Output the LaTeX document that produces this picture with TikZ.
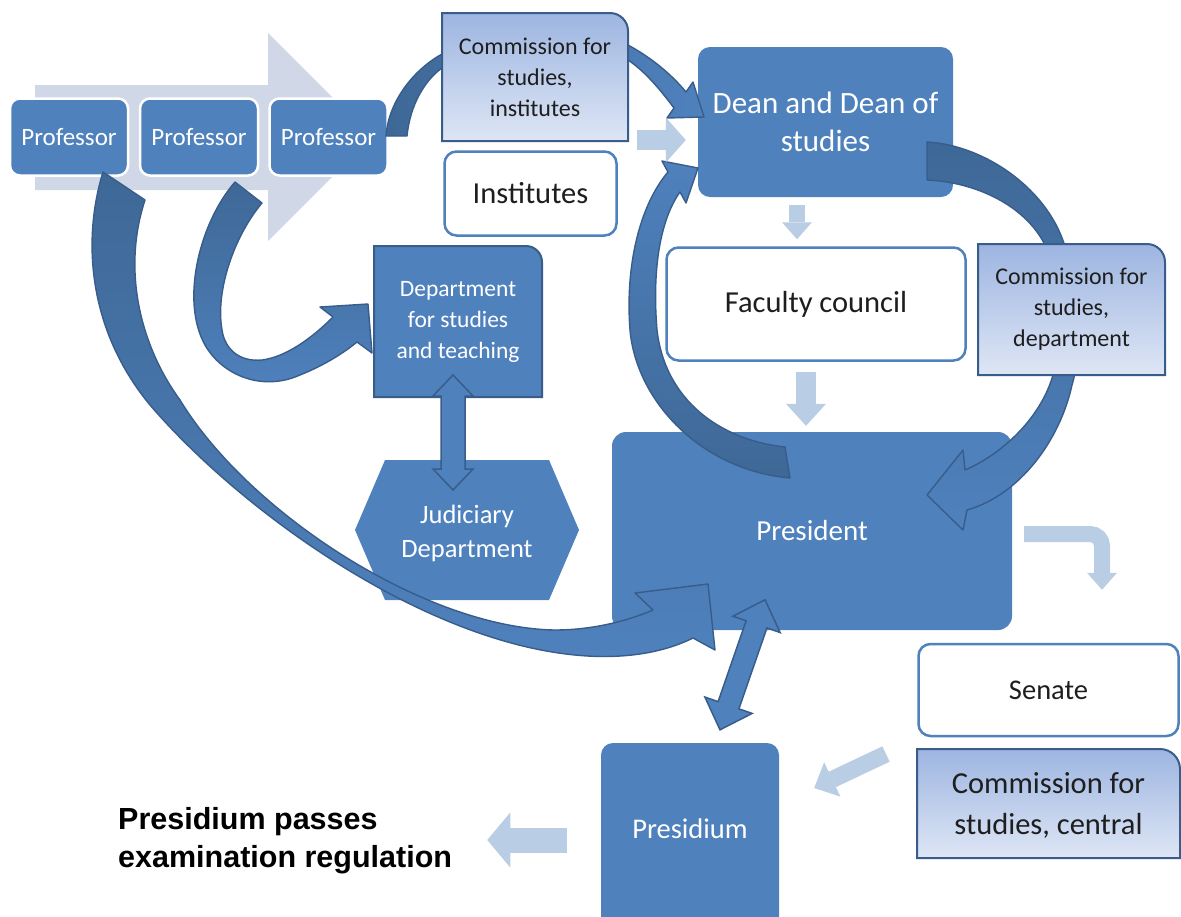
\documentclass[tikz,border=0pt]{standalone}
\usepackage{fontspec}
\setmainfont{Carlito}
\newfontfamily\captionfont{Liberation Sans}
\usetikzlibrary{arrows.meta,calc}

\definecolor{boxblue}{HTML}{4F81BD}
\definecolor{arcdark}{HTML}{3E6896}
\definecolor{edgeblue}{HTML}{385D8A}
\definecolor{paleblue}{HTML}{B9CDE5}
\definecolor{chevronblue}{HTML}{D0D8E8}
\definecolor{gradtop}{HTML}{9DB5E1}
\definecolor{gradbottom}{HTML}{DEE6F5}
\definecolor{ink}{HTML}{1E1E1E}

\newcommand\fsz[2]{\fontsize{#1}{#2}\selectfont}

% box with only the top right corner rounded: node name, radius, path options
\newcommand\trbox[3]{%
  \path[#3] (#1.south west) -- (#1.north west) -- ([xshift=-#2]#1.north east)
    .. controls ([xshift=-0.45*#2]#1.north east) and ([yshift=-0.45*#2]#1.north east)
    .. ([yshift=-#2]#1.north east) -- (#1.south east) -- cycle;}

\tikzset{
  prof/.style={fill=boxblue, draw=white, line width=2.5pt, rounded corners=10pt,
    minimum width=118pt, minimum height=77pt, inner sep=0pt, text=white, font=\fsz{25}{30}},
  solidbox/.style={fill=boxblue, rounded corners=12pt, inner sep=0pt, text=white, align=center},
  whitebox/.style={fill=white, draw=boxblue, line width=2.5pt, rounded corners=12pt,
    inner sep=0pt, text=ink, align=center},
  holder/.style={inner sep=0pt, outer sep=0pt},
  darktext/.style={text=ink, align=center, inner sep=0pt},
  lighttext/.style={text=white, align=center, inner sep=0pt},
  gradfill/.style={top color=gradtop, bottom color=gradbottom, draw=edgeblue, line width=2pt},
  curved/.style={draw=edgeblue, line width=1.4pt, line join=round},
  pale/.style={draw=paleblue, line width=#1},
  dbl/.style={fill=boxblue, draw=edgeblue, line width=1.5pt, line join=miter},
  pics/dblblock/.style n args={4}{code={%
    \path[pic actions] (0,0) -- (#4,#3) -- (#4,#2) -- (#1-#4,#2) -- (#1-#4,#3) -- (#1,0)
      -- (#1-#4,-#3) -- (#1-#4,-#2) -- (#4,-#2) -- (#4,-#3) -- cycle;}}
}

\begin{document}
\begin{tikzpicture}[x=1pt,y=-1pt]
\useasboundingbox (0,0) rectangle (1181,916);
\fill[white] (0,0) rectangle (1181,916);

% chevron behind the professors
\fill[chevronblue] (35,85) -- (268,85) -- (268,33) -- (372,137) -- (268,241) -- (268,190) -- (35,190) -- cycle;

\node[prof] (p1) at (69,137) {Professor};
\node[prof] (p2) at (199,137) {Professor};
\node[prof] (p3) at (328.5,137) {Professor};

\node[whitebox, minimum width=172pt, minimum height=84pt, font=\fsz{30.5}{36}] (inst) at (530.5,193.5) {Institutes};
\node[solidbox, minimum width=255pt, minimum height=150pt, font=\fsz{31}{38}] (dean) at (825.5,122) {Dean and Dean of\\studies};
\node[whitebox, minimum width=299pt, minimum height=113pt, font=\fsz{30.5}{36}] (fac) at (816,304) {Faculty council};
\node[solidbox, rounded corners=14pt, minimum width=400pt, minimum height=198pt, font=\fsz{29}{34}] (pres) at (812,531) {President};
\node[whitebox, minimum width=260pt, minimum height=92pt, font=\fsz{28.5}{34}] (sen) at (1048.5,690) {Senate};
\node[solidbox, minimum width=178pt, minimum height=192pt] (prm) at (690,839) {};
\node[lighttext, font=\fsz{28.5}{34}] (prmt) at ($(prm.north)+(0,86)$) {Presidium};

% department for studies
\node[holder, minimum width=168pt, minimum height=151pt] (dept) at (458,321.5) {};
\trbox{dept}{16pt}{fill=boxblue, draw=edgeblue, line width=2pt}
\node[lighttext, font=\fsz{23.5}{31}] (deptt) at (dept) {Department\\for studies\\and teaching};

% judiciary hexagon
\node[holder, minimum width=224pt, minimum height=140pt] (jud) at (467,530) {};
\fill[boxblue] (jud.west) -- ([xshift=30pt]jud.north west) -- ([xshift=-30pt]jud.north east)
  -- (jud.east) -- ([xshift=-30pt]jud.south east) -- ([xshift=30pt]jud.south west) -- cycle;
\node[lighttext, font=\fsz{26.5}{34}] (judt) at ($(jud)+(0,3)$) {Judiciary\\Department};

% professor -> dean, passing behind the institutes commission
\path[curved, left color=arcdark, right color=boxblue]
  (386,136) .. controls (388,105) and (410,72) .. (442,54)
  .. controls (500,18) and (585,22) .. (628,45)
  .. controls (652,58) and (672,75) .. (686,92) -- (693,82) -- (704,117) -- (667,118) -- (674,108)
  .. controls (662,92) and (646,72) .. (628,60)
  .. controls (585,36) and (500,34) .. (442,68)
  .. controls (425,80) and (410,105) .. (407,136) -- cycle;

% dean -> president, passing behind the department commission
\path[curved, top color=arcdark, bottom color=boxblue]
  (927,142) .. controls (985,145) and (1050,190) .. (1066,250)
  .. controls (1080,310) and (1080,360) .. (1072,385)
  .. controls (1060,440) and (1020,495) .. (967,510) -- (963,530) -- (927,495) -- (963,450) -- (965,470)
  .. controls (1000,455) and (1040,420) .. (1053,375)
  .. controls (1064,330) and (1060,280) .. (1045,245)
  .. controls (1025,205) and (975,182) .. (927,180) -- cycle;

% commission boxes
\node[holder, minimum width=186pt, minimum height=128pt] (ci) at (535,77) {};
\trbox{ci}{18pt}{gradfill}
\node[darktext, font=\fsz{24}{31}] (cit) at (ci) {Commission for\\studies,\\institutes};

\node[holder, minimum width=187pt, minimum height=131pt] (cd) at (1071.5,309.5) {};
\trbox{cd}{18pt}{gradfill}
\node[darktext, font=\fsz{24}{31}] (cdt) at (cd) {Commission for\\studies,\\department};

\node[holder, minimum width=263pt, minimum height=109pt] (cc) at (1048.5,803.5) {};
\trbox{cc}{20pt}{gradfill}
\node[darktext, font=\fsz{30.5}{41}] (cct) at ($(cc)+(0,2)$) {Commission for\\studies, central};

% president -> dean
\path[curved, top color=boxblue, bottom color=arcdark]
  (668,172) .. controls (640,205) and (625,265) .. (630,330)
  .. controls (636,400) and (700,470) .. (790,478) -- (785,447)
  .. controls (720,440) and (665,400) .. (657,330)
  .. controls (652,270) and (660,220) .. (680,192) -- (686,203) -- (698,168) -- (662,161) -- cycle;

% professor -> department for studies
\path[curved, top color=arcdark, bottom color=boxblue]
  (235,182) .. controls (200,222) and (180,300) .. (205,345)
  .. controls (222,375) and (262,392) .. (300,375)
  .. controls (325,365) and (345,352) .. (357,342) -- (372,353) -- (368,304) -- (320,307) -- (333,317)
  .. controls (310,340) and (285,357) .. (262,360)
  .. controls (240,362) and (225,350) .. (222,330)
  .. controls (215,290) and (235,235) .. (262,203) -- cycle;

% professor -> president
\path[curved, top color=arcdark, bottom color=boxblue]
  (103,172) .. controls (82,240) and (88,330) .. (150,405)
  .. controls (240,510) and (420,640) .. (575,655)
  .. controls (625,660) and (665,652) .. (693,638) -- (715,650) -- (708,584) -- (635,593) -- (653,610)
  .. controls (625,622) and (590,630) .. (555,630)
  .. controls (425,628) and (248,512) .. (180,400)
  .. controls (140,345) and (122,270) .. (145,200) -- cycle;

% two-way links
\pic[dbl, rotate=90] at ($(jud.north)+(-14,30)$) {dblblock={115}{12}{20}{21}};
\pic[dbl, rotate=70.9] at ($(prm.north)+(30,-13)$) {dblblock={137.6}{11}{25}{26}};

% caption
\node[anchor=west, align=left, text=black, inner sep=0pt, font=\captionfont\bfseries\fsz{30.5}{38}] (cap) at (118,841) {Presidium passes\\examination regulation};

% pale flow arrows
\draw[pale=20pt, -{Triangle[width=45pt,length=20pt,line width=0pt]}] ($(ci.south east)+(9,-1)$) -- ($(dean.west)+(-12,18)$);
\draw[pale=16pt, -{Triangle[width=30pt,length=17pt,line width=0pt]}] ($(dean.south)+(-28.5,8)$) -- ($(fac.north)+(-19,-7)$);
\draw[pale=20pt, -{Triangle[width=40pt,length=22pt,line width=0pt]}] ($(fac.south)+(-10,10)$) -- ($(pres.north)+(-6,-6)$);
\draw[pale=16pt, rounded corners=12pt, -{Triangle[width=30pt,length=17pt,line width=0pt]}] ($(pres.east)+(12,3)$) -| ($(sen.north)+(53.5,-53)$);
\draw[pale=17pt, -{Triangle[width=38pt,length=20pt,line width=0pt]}] ($(cc.west)+(-31,-49.5)$) -- ($(prm.east)+(35,-51)$);
\draw[pale=25pt, -{Triangle[width=55pt,length=23pt,line width=0pt]}] ($(prm.west)+(-34,1)$) -- ($(cap.east)+(35,-1)$);
\end{tikzpicture}
\end{document}
